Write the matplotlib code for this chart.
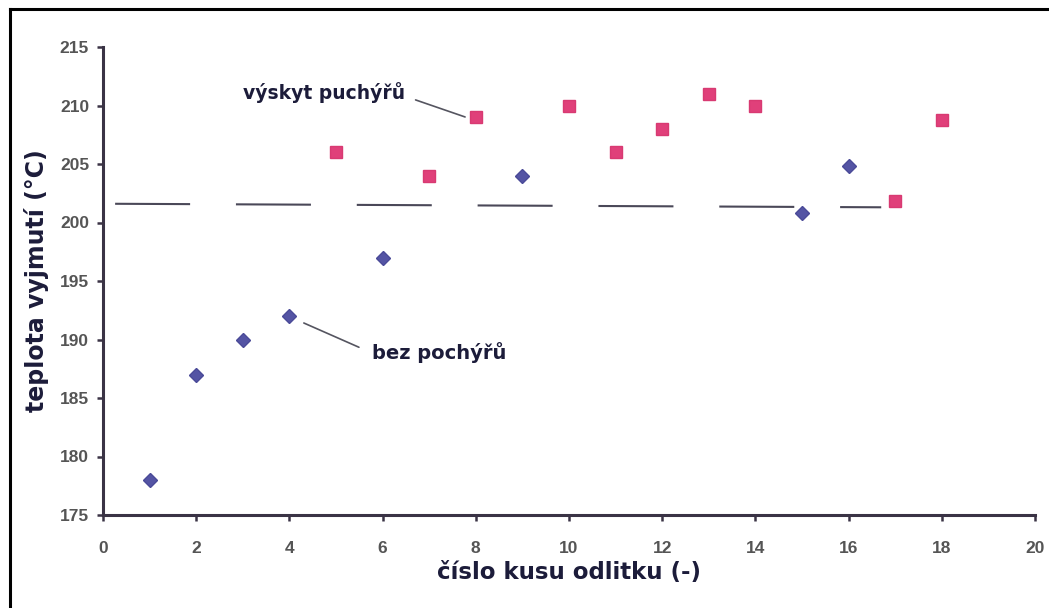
import matplotlib
matplotlib.use("Agg")
import matplotlib.pyplot as plt
from matplotlib.lines import Line2D

# ---- data ----
bez_x = [1, 2, 3, 4, 6, 9, 15, 16]
bez_y = [178, 187, 190, 192, 197, 204, 200.8, 204.8]
vys_x = [5, 7, 8, 10, 11, 12, 13, 14, 17, 18]
vys_y = [206, 204, 209, 210, 206, 208, 211, 210, 201.8, 208.8]
limit_x = [0.26, 16.7]
limit_y = [201.6, 201.3]
x_ticks = list(range(0, 21, 2))
y_ticks = list(range(175, 216, 5))
x_label = "číslo kusu odlitku (-)"
y_label = "teplota vyjmutí (°C)"
label_vys = "výskyt puchýřů"
label_bez = "bez pochýřů"

W, H = 1049, 608
fig = plt.figure(figsize=(W / 100, H / 100), dpi=100)
fig.patch.set_facecolor("white")
ax = fig.add_axes([103 / W, 1 - 515 / H, (1035 - 103) / W, (515 - 47) / H])

ax.set_xlim(0, 20)
ax.set_ylim(175, 215)

axis_col = "#3a3345"
for s in ["top", "right"]:
    ax.spines[s].set_visible(False)
for s in ["left", "bottom"]:
    ax.spines[s].set_linewidth(2.2)
    ax.spines[s].set_color(axis_col)

ax.set_xticks(x_ticks)
ax.set_yticks(y_ticks)
tick_font = dict(family="Liberation Sans", weight="bold", size=12.5)
ax.set_xticklabels([str(t) for t in x_ticks], **tick_font, color="#555555")
ax.set_yticklabels([str(t) for t in y_ticks], **tick_font, color="#555555")
ax.tick_params(axis="x", direction="out", length=4, width=1.8, color=axis_col, pad=15)
ax.tick_params(axis="y", direction="out", length=4, width=1.8, color=axis_col, pad=6)

text_col = "#1c1c3a"
ax.set_xlabel(x_label, fontsize=16.5, fontweight="bold", color=text_col,
              family="DejaVu Sans", labelpad=3)
ax.set_ylabel(y_label, fontsize=17, fontweight="bold", color=text_col,
              family="DejaVu Sans", labelpad=8)

# threshold dashed line
ax.plot(limit_x, limit_y, color="#4a4858", lw=1.5, dashes=(36, 22), zorder=2)

# series
ax.plot(bez_x, bez_y, linestyle="none", marker="D", markersize=7,
        color="#5454a4", markeredgecolor="#4a4a98", zorder=3)
ax.plot(vys_x, vys_y, linestyle="none", marker="s", markersize=8.5,
        color="#e0407a", markeredgecolor="#d83a72", zorder=3)

# annotations
ax.annotate(label_vys, xy=(7.77, 209.02), xytext=(3.0, 211.15),
            fontsize=13.5, fontweight="bold", color=text_col, family="DejaVu Sans",
            ha="left", va="center",
            arrowprops=dict(arrowstyle="-", color="#555560", lw=1.2,
                            shrinkA=6, shrinkB=0, relpos=(1.0, 0.3)))
ax.annotate(label_bez, xy=(4.31, 191.41), xytext=(5.77, 188.85),
            fontsize=14, fontweight="bold", color=text_col, family="DejaVu Sans",
            ha="left", va="center",
            arrowprops=dict(arrowstyle="-", color="#555560", lw=1.2,
                            shrinkA=8, shrinkB=0, relpos=(0.0, 0.5)))

# image border (top and left)
fig.add_artist(Line2D([10 / W, 1.0], [1 - 8.5 / H, 1 - 8.5 / H], transform=fig.transFigure,
                      color="black", lw=2.2))
fig.add_artist(Line2D([10 / W, 10 / W], [0.0, 1 - 8.5 / H], transform=fig.transFigure,
                      color="black", lw=2.2))

fig.savefig("out.png", dpi=100)
